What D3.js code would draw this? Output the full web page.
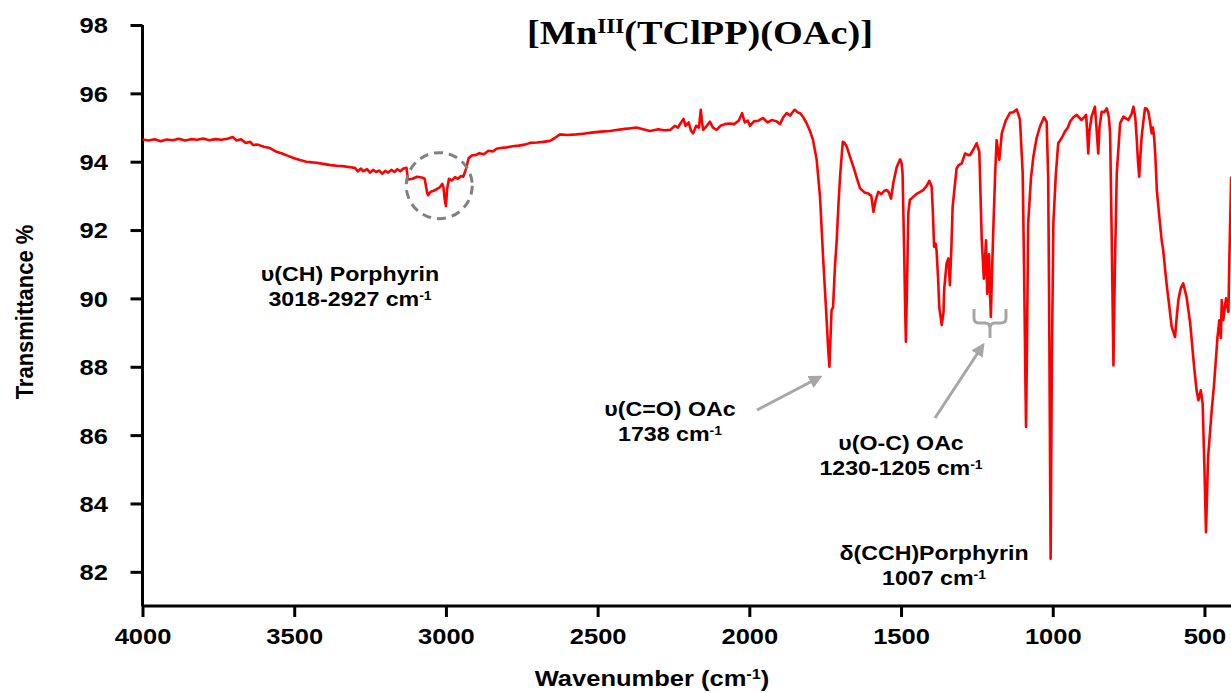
<!DOCTYPE html>
<html>
<head>
<meta charset="utf-8">
<script src="https://cdn.jsdelivr.net/npm/d3@7"></script>
<style>
  body { margin: 0; background: #fff; }
  text { font-family: "Liberation Sans", Arial, sans-serif; font-weight: bold; fill: #000; }
</style>
</head>
<body>
<div id="chart"></div>
<script>
// espectro FTIR: [numero de onda cm-1, transmitancia %]
const spectrum = [
  [4000,94.65],[3980,94.62],[3960,94.66],[3940,94.6],[3920,94.65],[3900,94.63],[3880,94.67],[3860,94.62],
  [3840,94.66],[3820,94.64],[3800,94.68],[3780,94.63],[3760,94.66],[3740,94.64],[3720,94.67],[3702,94.72],
  [3690,94.62],[3675,94.66],[3660,94.55],[3645,94.58],[3636,94.49],[3620,94.5],[3600,94.44],[3580,94.4],
  [3558,94.29],[3540,94.24],[3520,94.17],[3500,94.1],[3481,94.05],[3460,94.0],[3440,93.98],[3426,93.97],
  [3400,93.93],[3380,93.9],[3360,93.88],[3340,93.87],[3316,93.84],[3300,93.82],[3290,93.72],[3280,93.8],
  [3273,93.72],[3260,93.78],[3250,93.68],[3240,93.76],[3230,93.7],[3220,93.74],[3210,93.65],[3200,93.73],
  [3190,93.68],[3180,93.76],[3170,93.7],[3160,93.78],[3150,93.72],[3140,93.8],[3130,93.82],[3125,93.48],
  [3110,93.5],[3095,93.56],[3080,93.54],[3070,93.5],[3062,93.1],[3059,93.02],[3050,93.12],[3040,93.15],
  [3030,93.2],[3020,93.25],[3012,93.35],[3008,93.25],[3004,92.9],[3000,92.7],[2996,93.2],[2990,93.5],
  [2980,93.45],[2970,93.55],[2960,93.5],[2950,93.58],[2943,93.56],[2935,93.75],[2925,94.1],[2915,94.18],
  [2900,94.2],[2890,94.25],[2875,94.22],[2860,94.32],[2845,94.3],[2833,94.38],[2820,94.4],[2800,94.42],
  [2780,94.45],[2760,94.47],[2740,94.5],[2723,94.55],[2700,94.56],[2680,94.58],[2657,94.61],[2640,94.7],
  [2624,94.8],[2600,94.78],[2570,94.8],[2548,94.82],[2520,94.85],[2490,94.88],[2460,94.9],[2438,94.93],
  [2410,94.96],[2390,94.98],[2372,95.0],[2350,94.95],[2327,94.9],[2300,94.95],[2280,94.92],[2261,94.93],
  [2245,95.05],[2235,95.0],[2225,95.15],[2217,95.25],[2210,95.05],[2200,95.15],[2192,94.9],[2185,94.83],
  [2175,95.05],[2166,95.0],[2160,95.52],[2155,95.1],[2152,94.93],[2140,95.05],[2130,95.17],[2120,95.0],
  [2108,94.93],[2095,95.05],[2080,95.1],[2064,95.12],[2050,95.1],[2035,95.2],[2024,95.42],[2015,95.15],
  [2005,95.2],[1998,95.05],[1985,95.18],[1970,95.2],[1955,95.28],[1940,95.15],[1925,95.22],[1910,95.18],
  [1899,95.1],[1888,95.3],[1877,95.42],[1865,95.35],[1855,95.48],[1850,95.52],[1842,95.45],[1833,95.42],
  [1822,95.3],[1811,95.12],[1800,94.9],[1790,94.63],[1778,94.05],[1767,92.97],[1757,91.22],[1747,89.65],
  [1740,88.5],[1736,88.0],[1731,89.2],[1729,89.65],[1724,89.75],[1718,90.9],[1712,91.7],[1706,92.8],
  [1701,93.56],[1692,94.58],[1686,94.55],[1679,94.44],[1668,94.14],[1657,93.85],[1645,93.5],[1635,93.22],
  [1620,93.1],[1608,93.07],[1598,93.0],[1591,92.53],[1583,92.9],[1575,93.12],[1565,93.05],[1555,93.15],
  [1547,93.17],[1540,93.1],[1533,92.92],[1525,93.4],[1514,93.85],[1503,94.07],[1498,93.95],[1495,93.66],
  [1490,91.5],[1486,89.5],[1484,88.73],[1480,90.5],[1476,92.5],[1471,92.88],[1460,92.97],[1450,93.05],
  [1440,93.1],[1427,93.17],[1415,93.3],[1407,93.44],[1399,93.27],[1395,92.5],[1391,91.51],[1386,91.6],
  [1383,91.41],[1378,90.6],[1374,89.75],[1366,89.22],[1360,89.6],[1358,90.24],[1350,91.02],[1344,91.17],
  [1339,90.39],[1334,91.5],[1330,92.68],[1317,93.8],[1310,93.9],[1300,93.95],[1289,94.24],[1280,94.2],
  [1273,94.19],[1262,94.35],[1251,94.54],[1242,94.29],[1238,93.0],[1234,91.7],[1227,90.58],[1224,91.0],
  [1220,91.7],[1216,90.14],[1213,90.9],[1210,91.29],[1207,90.2],[1204,89.46],[1200,90.8],[1196,92.0],
  [1190,93.6],[1185,94.63],[1176,94.05],[1168,94.83],[1155,95.2],[1141,95.43],[1130,95.45],[1119,95.53],
  [1112,95.35],[1108,95.22],[1099,93.66],[1094,90.5],[1090,87.5],[1088,86.24],[1085,88.5],[1081,92.19],
  [1072,93.5],[1064,94.14],[1053,94.7],[1042,95.03],[1029,95.3],[1020,95.17],[1015,93.5],[1012,90.0],
  [1007,82.38],[1003,88.0],[998,92.19],[990,93.6],[982,94.54],[970,94.7],[960,94.88],[950,95.0],
  [943,95.17],[932,95.3],[921,95.37],[905,95.22],[890,95.37],[886,94.8],[883,94.24],[879,94.9],
  [872,95.32],[861,95.61],[856,95.0],[850,94.24],[846,95.0],[839,95.46],[830,95.45],[822,95.56],
  [815,95.3],[811,94.83],[806,92.0],[800,88.04],[795,91.0],[789,93.66],[778,95.12],[767,95.32],
  [751,95.22],[740,95.4],[734,95.61],[728,95.3],[723,94.63],[719,94.0],[715,93.56],[711,94.2],
  [707,94.73],[701,95.2],[696,95.56],[690,95.55],[685,95.46],[680,95.2],[674,94.83],[670,95.0],
  [666,94.73],[662,94.2],[657,93.17],[650,92.5],[641,91.7],[636,91.41],[625,90.44],[615,89.7],
  [608,89.17],[597,88.87],[592,89.4],[586,89.95],[578,90.3],[570,90.44],[559,90.04],[547,89.27],
  [542,88.78],[534,88.0],[526,87.31],[520,87.02],[512,87.31],[506,86.93],[500,85.0],[495,83.16],
  [488,85.36],[476,86.73],[468,87.52],[457,88.87],[451,89.36],[446,88.84],[443,89.95],[438,89.36],
  [429,90.0],[421,89.6],[418,91.12],[412,93.56]
];

const xMajor = [4000, 3500, 3000, 2500, 2000, 1500, 1000, 500];
const xMinor = [3750, 3250, 2750, 2250, 1750, 1250, 750];
const yMajor = [82, 84, 86, 88, 90, 92, 94, 96, 98];
const yMinor = [81, 83, 85, 87, 89, 91, 93, 95, 97];

const notes = [
  {lines: ["υ(CH) Porphyrin", "3018-2927 cm"], x: 350, y: 281},
  {lines: ["υ(C=O) OAc", "1738 cm"], x: 670, y: 416},
  {lines: ["υ(O-C) OAc", "1230-1205 cm"], x: 901, y: 450},
  {lines: ["δ(CCH)Porphyrin", "1007 cm"], x: 934, y: 560}
];

const width = 1231, height = 693;
const stretch = 1.16; // el texto original esta algo estirado en horizontal
const fontTick = '22px';

const svg = d3.select('#chart').append('svg')
  .attr('width', width)
  .attr('height', height);

const x = d3.scaleLinear().domain([4000, 400]).range([142.5, 1234.8]);
const y = d3.scaleLinear().domain([81, 98]).range([606, 25]);

// ejes
const gx = svg.append('g').attr('transform', 'translate(0,606)');
gx.call(d3.axisBottom(x).tickValues(xMinor).tickSize(7).tickFormat(''));
gx.call(d3.axisBottom(x).tickValues(xMajor).tickSize(11).tickFormat(d3.format('d')));
gx.selectAll('.domain').attr('stroke-width', 3).attr('d', 'M142.5,0H1231');
gx.selectAll('.tick line').attr('stroke-width', 3);
gx.selectAll('.tick text')
  .attr('y', 38).attr('dy', 0).attr('x', 0)
  .attr('text-anchor', 'middle')
  .attr('transform', `scale(${stretch},1)`)
  .style('font-size', fontTick).style('font-family', '"Liberation Sans", Arial, sans-serif').style('font-weight', 'bold');

const gy = svg.append('g').attr('transform', 'translate(142.5,0)');
gy.call(d3.axisLeft(y).tickValues(yMinor).tickSize(7).tickFormat(''));
gy.call(d3.axisLeft(y).tickValues(yMajor).tickSize(12).tickFormat(d3.format('d')));
gy.selectAll('.domain').attr('stroke-width', 3).attr('d', 'M0,25V606');
gy.selectAll('.tick line').attr('stroke-width', 3);
gy.selectAll('.tick text')
  .attr('x', -34.5 / stretch)
  .attr('dy', '0.36em')
  .attr('transform', `scale(${stretch},1)`)
  .style('font-size', fontTick).style('font-family', '"Liberation Sans", Arial, sans-serif').style('font-weight', 'bold');

// espectro
const line = d3.line().x(d => x(d[0])).y(d => y(d[1]));
svg.append('path')
  .datum(spectrum)
  .attr('fill', 'none')
  .attr('stroke', '#ff0000')
  .attr('stroke-width', 2.6)
  .attr('stroke-linejoin', 'round')
  .attr('d', line);

// titulo
const title = svg.append('text')
  .attr('transform', `translate(700,44) scale(${stretch},1)`)
  .attr('text-anchor', 'middle')
  .style('font-family', '"Liberation Serif", "Times New Roman", serif')
  .style('font-size', '33px');
title.append('tspan').text('[Mn');
title.append('tspan').attr('baseline-shift', 'super').style('font-size', '20px').text('III');
title.append('tspan').text('(TClPP)(OAc)]');

// titulos de ejes
svg.append('text')
  .attr('transform', `translate(652,686) scale(${stretch},1)`)
  .attr('text-anchor', 'middle')
  .style('font-size', '22px')
  .call(t => {
    t.append('tspan').text('Wavenumber (cm');
    t.append('tspan').attr('baseline-shift', 'super').style('font-size', '14px').text('-1');
    t.append('tspan').text(')');
  });

svg.append('text')
  .attr('transform', 'translate(33,312) rotate(-90) scale(1,1.1)')
  .attr('text-anchor', 'middle')
  .style('font-size', '22px')
  .text('Transmittance %');

// anotaciones
notes.forEach(n => {
  n.lines.forEach((l, i) => {
    const t = svg.append('text')
      .attr('transform', `translate(${n.x},${n.y + i * 25}) scale(${stretch},1)`)
      .attr('text-anchor', 'middle')
      .style('font-size', '20px');
    t.append('tspan').text(l);
    if (i == 1) t.append('tspan').attr('baseline-shift', 'super').style('font-size', '12px').text('-1');
  });
});

// circulo punteado sobre v(CH)
svg.append('circle')
  .attr('cx', x(3022))
  .attr('cy', y(93.3))
  .attr('r', 33)
  .attr('fill', 'none')
  .attr('stroke', '#808080')
  .attr('stroke-width', 3)
  .attr('stroke-dasharray', '9,6');

// flechas
svg.append('defs').append('marker')
  .attr('id', 'head')
  .attr('viewBox', '0 0 10 10')
  .attr('refX', 8).attr('refY', 5)
  .attr('markerWidth', 4.5).attr('markerHeight', 4.5)
  .attr('orient', 'auto')
  .append('path')
  .attr('d', 'M0,0L10,5L0,10Z')
  .attr('fill', '#a6a6a6');

[[757, 410, 820, 377], [935, 418, 983, 345]].forEach(a => {
  svg.append('line')
    .attr('x1', a[0]).attr('y1', a[1])
    .attr('x2', a[2]).attr('y2', a[3])
    .attr('stroke', '#a6a6a6')
    .attr('stroke-width', 3)
    .attr('marker-end', 'url(#head)');
});

// llave 1230-1205
svg.append('path')
  .attr('d', 'M974,309V318Q974,323 979,323H985Q990,323 990,328V338M990,328Q990,323 995,323H1001Q1006,323 1006,318V309')
  .attr('fill', 'none')
  .attr('stroke', '#a6a6a6')
  .attr('stroke-width', 3);
</script>
</body>
</html>
